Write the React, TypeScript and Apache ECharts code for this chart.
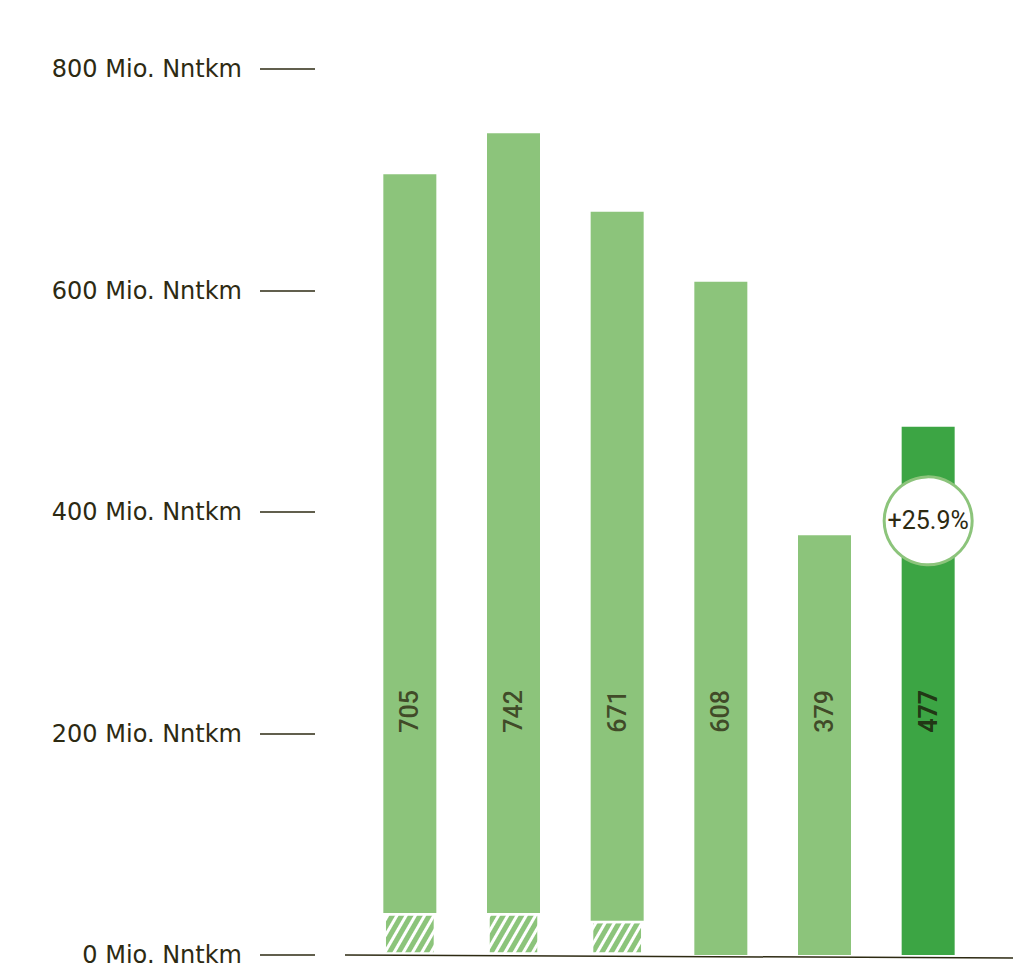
import React, { useEffect, useRef } from "react";
import * as echarts from "echarts";

// ---- data ----
const categories = ["J1", "J2", "J3", "J4", "J5", "J6"];
const totals = [705, 742, 671, 608, 379, 477];
const hatched = [38, 38, 31, 0, 0, 0];
const yTicks = [0, 200, 400, 600, 800];
const unit = "Mio. Nntkm";

// ---- layout / style constants ----
const LABEL_LEVEL = 220; // y level where the rotated value labels sit
const BADGE_LEVEL = 392; // y level of the growth badge
const TEXT = "#2d2a12";
const LIGHT = "#8cc47b";
const DARK = "#3ca544";
const FONT = "Roboto";
const AXIS_FONT = "DejaVu Sans";

export default function App() {
  const ref = useRef<HTMLDivElement>(null);
  useEffect(() => {
    if (!ref.current) return;
    const chart = echarts.init(ref.current, null, { renderer: "svg" });
    const upper = totals.map((t, i) => t - hatched[i]);
    const last = totals.length - 1;
    const growth = ((totals[last] / totals[last - 1] - 1) * 100).toFixed(1);
    chart.setOption({
      animation: false,
      backgroundColor: "#ffffff",
      grid: { left: 358, right: 33, top: 69, bottom: 13 },
      xAxis: {
        type: "category",
        data: categories,
        axisLine: { show: false },
        axisTick: { show: false },
        axisLabel: { show: false },
        splitLine: { show: false },
      },
      yAxis: {
        type: "value",
        min: yTicks[0],
        max: yTicks[yTicks.length - 1],
        interval: 200,
        offset: 43,
        axisLine: { show: false },
        axisTick: { show: true, length: 55, lineStyle: { color: TEXT, width: 1.5 } },
        splitLine: { show: false },
        axisLabel: {
          margin: 73,
          color: TEXT,
          fontFamily: AXIS_FONT,
          fontSize: 24,
          formatter: (v: number) => `${v} ${unit}`,
        },
      },
      series: [
        {
          type: "bar",
          stack: "s",
          barWidth: 53,
          data: hatched,
          itemStyle: {
            color: LIGHT,
            borderColor: "#ffffff",
            borderWidth: 2.5,
            decal: {
              symbol: "rect",
              symbolSize: 1,
              color: "#ffffff",
              dashArrayX: [1, 0],
              dashArrayY: [2.5, 5],
              rotation: -Math.PI / 3,
            },
          },
          z: 2,
        },
        {
          type: "bar",
          stack: "s",
          barWidth: 53,
          data: upper.map((v, i) => ({
            value: v,
            itemStyle: { color: i === last ? DARK : LIGHT },
          })),
          z: 2,
        },
        {
          type: "scatter",
          symbolSize: 0,
          data: totals.map((t, i) =>
            i === last
              ? { value: [i, LABEL_LEVEL], label: { fontWeight: "bold", color: "#1a1a08" } }
              : [i, LABEL_LEVEL]
          ),
          label: {
            show: true,
            position: "inside",
            rotate: 90,
            color: TEXT,
            fontFamily: FONT,
            fontWeight: 500,
            fontSize: 25,
            formatter: (p: any) => String(totals[p.dataIndex]),
          },
          z: 3,
        },
        {
          type: "scatter",
          data: [[last, BADGE_LEVEL]],
          symbol: "circle",
          symbolSize: 88,
          itemStyle: { color: "#ffffff", borderColor: LIGHT, borderWidth: 3, opacity: 1 },
          label: {
            show: true,
            position: "inside",
            color: TEXT,
            fontFamily: FONT,
            fontSize: 25,
            formatter: () => `+${growth}%`,
          },
          z: 4,
        },
      ],
      graphic: [
        {
          type: "line",
          shape: { x1: 345, y1: 955, x2: 1013, y2: 958 },
          style: { stroke: TEXT, lineWidth: 1.5 },
          z: 10,
        },
      ],
    });
    return () => chart.dispose();
  }, []);
  return (
    <div
      ref={ref}
      style={{ position: "fixed", left: 0, top: 0, width: 1013, height: 968, background: "#fff" }}
    />
  );
}
